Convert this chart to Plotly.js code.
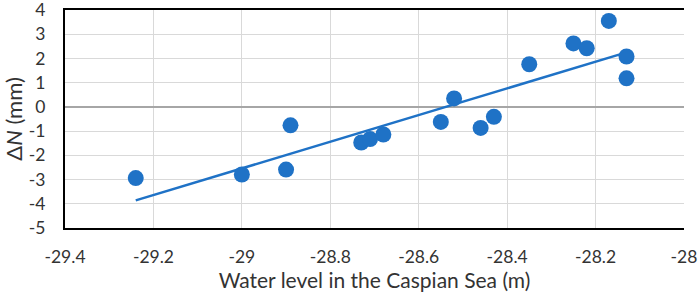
<!DOCTYPE html>
<html><head><meta charset="utf-8">
<script src="https://cdn.plot.ly/plotly-3.0.1.min.js"></script>
<style>html,body{margin:0;padding:0;background:#fff}#chart{width:699px;height:293px}</style>
</head><body><div id="chart"></div>
<script>
const waterLevel = [-29.24, -29.00, -28.90, -28.89, -28.73, -28.71, -28.68, -28.55, -28.52, -28.46, -28.43, -28.35, -28.25, -28.22, -28.17, -28.13, -28.13];
const deltaN     = [-2.94, -2.79, -2.59, -0.76, -1.47, -1.33, -1.14, -0.62, 0.35, -0.87, -0.41, 1.76, 2.62, 2.42, 3.55, 2.08, 1.18];
const trendX = [-29.24, -28.13];
const trendY = [-3.86, 2.25];
const xTicks = [-29.4, -29.2, -29, -28.8, -28.6, -28.4, -28.2, -28];
const yTicks = [4, 3, 2, 1, 0, -1, -2, -3, -4, -5];

const blue = '#1f72c6';
const font = 'Lato, "Open Sans", sans-serif';
const txt = '#333333';
const data = [
  {x: trendX, y: trendY, mode: 'lines', type: 'scatter', line: {color: blue, width: 2.5}, hoverinfo: 'skip'},
  {x: waterLevel, y: deltaN, mode: 'markers', type: 'scatter', marker: {color: blue, size: 16}}
];
const layout = {
  width: 699, height: 293,
  margin: {l: 65, r: 15, t: 10, b: 65},
  showlegend: false,
  paper_bgcolor: '#fff', plot_bgcolor: '#fff',
  font: {family: font, color: txt, size: 17},
  xaxis: {
    range: [-29.4, -28], tickvals: xTicks, ticktext: xTicks.map(String),
    showgrid: true, gridcolor: '#d9d9d9', gridwidth: 1.2,
    zeroline: false, showline: true, linecolor: '#000', linewidth: 2, mirror: true,
    ticks: '', ticklabelstandoff: 12, ticklabeloverflow: 'allow',
    tickfont: {family: font, size: 17.5, color: txt},
    title: {text: 'Water level in the Caspian Sea (m)', font: {family: font, size: 21, color: txt}, standoff: 4}
  },
  yaxis: {
    range: [-5, 4], tickvals: yTicks, ticktext: yTicks.map(String),
    showgrid: true, gridcolor: '#d9d9d9', gridwidth: 1.2,
    zeroline: true, zerolinecolor: '#a6a6a6', zerolinewidth: 1.5,
    showline: true, linecolor: '#000', linewidth: 2, mirror: false,
    ticks: '', ticklabelstandoff: 14, ticklabeloverflow: 'allow',
    tickfont: {family: font, size: 17.5, color: txt},
    title: {text: 'Δ<i>N</i> (mm)', font: {family: font, size: 22, color: txt}, standoff: 6}
  }
};
Plotly.newPlot('chart', data, layout, {staticPlot: true});
</script></body></html>
